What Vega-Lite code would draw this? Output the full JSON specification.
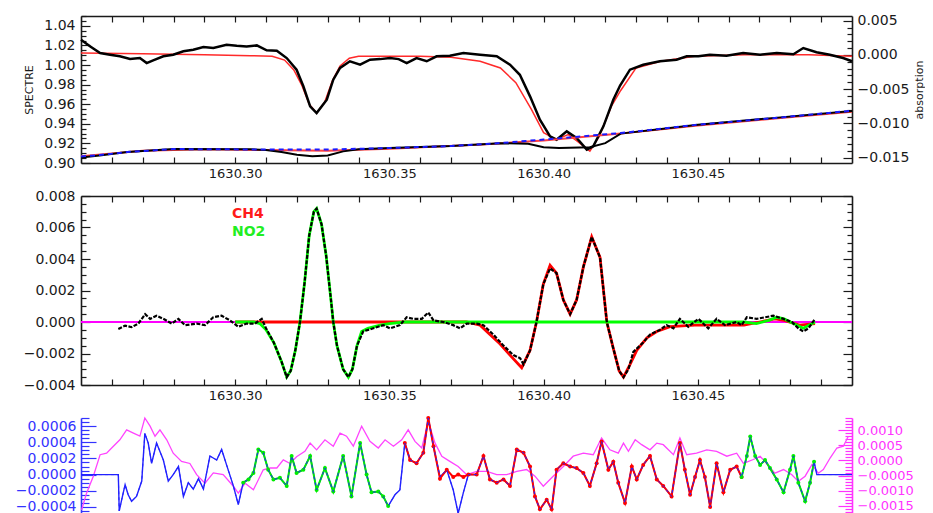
{
"$schema":"https://vega.github.io/schema/vega-lite/v6.json",
"padding":{"left":15,"top":9,"right":0,"bottom":0},
"background":"white",
"config":{"view":{"stroke":null},
 "axis":{"labelFont":"DejaVu Sans","titleFont":"DejaVu Sans","labelColor":"#1a1a1a","domainColor":"#1a1a1a","tickColor":"#1a1a1a","titleColor":"#1a1a1a","domainWidth":1.6,"tickWidth":1.2,"grid":false,"labelFlush":false,"labelOverlap":false,"labelFontSize":14,"titleFontWeight":"normal","titleFontSize":11}},
"datasets":{
"topObs":[{"w":1630.25,"v":1.0258},{"w":1630.2529,"v":1.0191},{"w":1630.2562,"v":1.0122},{"w":1630.2594,"v":1.0105},{"w":1630.2626,"v":1.0089},{"w":1630.2659,"v":1.0061},{"w":1630.2691,"v":1.0071},{"w":1630.2713,"v":1.002},{"w":1630.2734,"v":1.0048},{"w":1630.2767,"v":1.0089},{"w":1630.2799,"v":1.0105},{"w":1630.2832,"v":1.014},{"w":1630.2864,"v":1.0156},{"w":1630.2897,"v":1.0184},{"w":1630.2929,"v":1.0173},{"w":1630.2972,"v":1.0207},{"w":1630.3005,"v":1.0197},{"w":1630.3037,"v":1.019},{"w":1630.307,"v":1.02},{"w":1630.3102,"v":1.015},{"w":1630.3135,"v":1.0146},{"w":1630.3167,"v":1.0071},{"w":1630.3199,"v":0.9952},{"w":1630.3221,"v":0.9783},{"w":1630.3243,"v":0.9578},{"w":1630.3264,"v":0.951},{"w":1630.3297,"v":0.9646},{"w":1630.3318,"v":0.985},{"w":1630.334,"v":0.997},{"w":1630.3372,"v":1.0038},{"w":1630.3405,"v":1.0003},{"w":1630.3437,"v":1.0054},{"w":1630.347,"v":1.006},{"w":1630.3502,"v":1.0071},{"w":1630.353,"v":1.006},{"w":1630.3556,"v":1.002},{"w":1630.3588,"v":1.0071},{"w":1630.3621,"v":1.0038},{"w":1630.3653,"v":1.0089},{"w":1630.3696,"v":1.0095},{"w":1630.374,"v":1.0122},{"w":1630.3794,"v":1.0105},{"w":1630.3848,"v":1.0089},{"w":1630.3891,"v":1.0003},{"w":1630.3923,"v":0.99},{"w":1630.3956,"v":0.968},{"w":1630.3988,"v":0.9442},{"w":1630.4021,"v":0.9272},{"w":1630.4042,"v":0.9238},{"w":1630.4075,"v":0.9323},{"w":1630.4107,"v":0.9255},{"w":1630.414,"v":0.9136},{"w":1630.4161,"v":0.917},{"w":1630.4194,"v":0.9374},{"w":1630.4226,"v":0.9646},{"w":1630.4248,"v":0.979},{"w":1630.428,"v":0.9952},{"w":1630.4323,"v":1.0003},{"w":1630.4377,"v":1.0038},{"w":1630.4431,"v":1.0054},{"w":1630.4464,"v":1.0089},{"w":1630.4502,"v":1.0089},{"w":1630.4539,"v":1.0105},{"w":1630.4593,"v":1.0095},{"w":1630.4647,"v":1.0122},{"w":1630.4702,"v":1.0105},{"w":1630.4756,"v":1.0122},{"w":1630.481,"v":1.011},{"w":1630.4842,"v":1.0173},{"w":1630.4885,"v":1.013},{"w":1630.4928,"v":1.0105},{"w":1630.4971,"v":1.0071},{"w":1630.5,"v":1.0038}],
"topFit":[{"w":1630.25,"v":1.0122},{"w":1630.27,"v":1.0115},{"w":1630.29,"v":1.0105},{"w":1630.305,"v":1.0095},{"w":1630.312,"v":1.0089},{"w":1630.316,"v":1.005},{"w":1630.319,"v":0.995},{"w":1630.3215,"v":0.98},{"w":1630.324,"v":0.96},{"w":1630.3264,"v":0.951},{"w":1630.329,"v":0.962},{"w":1630.3315,"v":0.984},{"w":1630.334,"v":0.999},{"w":1630.337,"v":1.007},{"w":1630.34,"v":1.0089},{"w":1630.36,"v":1.0089},{"w":1630.37,"v":1.008},{"w":1630.3794,"v":1.0038},{"w":1630.386,"v":0.997},{"w":1630.391,"v":0.982},{"w":1630.396,"v":0.955},{"w":1630.4,"v":0.931},{"w":1630.404,"v":0.924},{"w":1630.408,"v":0.929},{"w":1630.411,"v":0.922},{"w":1630.415,"v":0.912},{"w":1630.418,"v":0.927},{"w":1630.422,"v":0.958},{"w":1630.425,"v":0.974},{"w":1630.43,"v":0.997},{"w":1630.438,"v":1.0038},{"w":1630.449,"v":1.0089},{"w":1630.465,"v":1.0105},{"w":1630.486,"v":1.0105},{"w":1630.5,"v":1.0089}],
"lowBlue":[{"w":1630.25,"v":-0.01485},{"w":1630.256,"v":-0.01464},{"w":1630.265,"v":-0.0142},{"w":1630.28,"v":-0.01376},{"w":1630.31,"v":-0.01383},{"w":1630.33,"v":-0.01383},{"w":1630.35,"v":-0.01361},{"w":1630.37,"v":-0.01332},{"w":1630.386,"v":-0.01288},{"w":1630.4,"v":-0.01237},{"w":1630.425,"v":-0.01142},{"w":1630.45,"v":-0.0102},{"w":1630.475,"v":-0.00922},{"w":1630.5,"v":-0.00815}],
"lowRed":[{"w":1630.25,"v":-0.0148},{"w":1630.27,"v":-0.014},{"w":1630.29,"v":-0.0138},{"w":1630.31,"v":-0.0139},{"w":1630.33,"v":-0.014},{"w":1630.35,"v":-0.0137},{"w":1630.38,"v":-0.0131},{"w":1630.4,"v":-0.0125},{"w":1630.425,"v":-0.0115},{"w":1630.45,"v":-0.0103},{"w":1630.475,"v":-0.0093},{"w":1630.5,"v":-0.0083}],
"lowBlack":[{"w":1630.25,"v":-0.015},{"w":1630.256,"v":-0.0147},{"w":1630.265,"v":-0.0142},{"w":1630.28,"v":-0.01376},{"w":1630.305,"v":-0.0138},{"w":1630.31,"v":-0.0139},{"w":1630.315,"v":-0.0142},{"w":1630.32,"v":-0.0146},{"w":1630.325,"v":-0.0148},{"w":1630.33,"v":-0.0147},{"w":1630.335,"v":-0.0141},{"w":1630.34,"v":-0.0138},{"w":1630.35,"v":-0.0136},{"w":1630.37,"v":-0.0133},{"w":1630.386,"v":-0.0129},{"w":1630.395,"v":-0.013},{"w":1630.4,"v":-0.0135},{"w":1630.405,"v":-0.0136},{"w":1630.415,"v":-0.0135},{"w":1630.42,"v":-0.0129},{"w":1630.425,"v":-0.0115},{"w":1630.45,"v":-0.0102},{"w":1630.475,"v":-0.0092},{"w":1630.5,"v":-0.0082}],
"mid":[
{"s":"base","w":1630.25,"v":0},{"s":"base","w":1630.5,"v":0},
{"s":"CH4","w":1630.3,"v":0},{"s":"CH4","w":1630.375,"v":0},{"s":"CH4","w":1630.3794,"v":-0.0002},{"s":"CH4","w":1630.3826,"v":-0.0008},{"s":"CH4","w":1630.3859,"v":-0.0014},{"s":"CH4","w":1630.3891,"v":-0.0021},{"s":"CH4","w":1630.3929,"v":-0.0029},{"s":"CH4","w":1630.3956,"v":-0.0018},{"s":"CH4","w":1630.3977,"v":0},{"s":"CH4","w":1630.3999,"v":0.0024},{"s":"CH4","w":1630.4021,"v":0.0036},{"s":"CH4","w":1630.4042,"v":0.0031},{"s":"CH4","w":1630.4064,"v":0.0014},{"s":"CH4","w":1630.4086,"v":0.0005},{"s":"CH4","w":1630.4107,"v":0.0014},{"s":"CH4","w":1630.4129,"v":0.0035},{"s":"CH4","w":1630.4156,"v":0.0054},{"s":"CH4","w":1630.4183,"v":0.0041},{"s":"CH4","w":1630.4205,"v":0},{"s":"CH4","w":1630.4225,"v":-0.0016},{"s":"CH4","w":1630.4245,"v":-0.0031},{"s":"CH4","w":1630.4259,"v":-0.0035},{"s":"CH4","w":1630.428,"v":-0.0027},{"s":"CH4","w":1630.4302,"v":-0.0018},{"s":"CH4","w":1630.4335,"v":-0.001},{"s":"CH4","w":1630.4367,"v":-0.0006},{"s":"CH4","w":1630.441,"v":-0.0003},{"s":"CH4","w":1630.449,"v":-0.0002},{"s":"CH4","w":1630.465,"v":-0.0002},{"s":"CH4","w":1630.47,"v":0},{"s":"CH4","w":1630.475,"v":0.0002},{"s":"CH4","w":1630.478,"v":0.0001},{"s":"CH4","w":1630.483,"v":-0.0002},{"s":"CH4","w":1630.488,"v":-0.0001},
{"s":"NO2","w":1630.3,"v":0},{"s":"NO2","w":1630.306,"v":0},{"s":"NO2","w":1630.308,"v":-0.0001},{"s":"NO2","w":1630.31,"v":-0.0005},{"s":"NO2","w":1630.3125,"v":-0.0013},{"s":"NO2","w":1630.315,"v":-0.0025},{"s":"NO2","w":1630.3167,"v":-0.0035},{"s":"NO2","w":1630.318,"v":-0.0031},{"s":"NO2","w":1630.3195,"v":-0.0018},{"s":"NO2","w":1630.321,"v":0},{"s":"NO2","w":1630.3225,"v":0.0025},{"s":"NO2","w":1630.324,"v":0.0055},{"s":"NO2","w":1630.3255,"v":0.007},{"s":"NO2","w":1630.3264,"v":0.0072},{"s":"NO2","w":1630.328,"v":0.0062},{"s":"NO2","w":1630.3295,"v":0.0042},{"s":"NO2","w":1630.331,"v":0.0015},{"s":"NO2","w":1630.3318,"v":0},{"s":"NO2","w":1630.333,"v":-0.0015},{"s":"NO2","w":1630.335,"v":-0.003},{"s":"NO2","w":1630.3367,"v":-0.0035},{"s":"NO2","w":1630.338,"v":-0.003},{"s":"NO2","w":1630.3395,"v":-0.0015},{"s":"NO2","w":1630.341,"v":-0.0006},{"s":"NO2","w":1630.343,"v":-0.0004},{"s":"NO2","w":1630.347,"v":-0.0002},{"s":"NO2","w":1630.35,"v":-0.0001},{"s":"NO2","w":1630.355,"v":0},{"s":"NO2","w":1630.465,"v":0},{"s":"NO2","w":1630.469,"v":-0.0001},{"s":"NO2","w":1630.473,"v":0.0001},{"s":"NO2","w":1630.4756,"v":0.0003},{"s":"NO2","w":1630.478,"v":0.0002},{"s":"NO2","w":1630.48,"v":0},{"s":"NO2","w":1630.4842,"v":-0.0004},{"s":"NO2","w":1630.488,"v":0},
{"s":"obs","w":1630.2621,"v":-0.00044},{"s":"obs","w":1630.2643,"v":-0.00023},{"s":"obs","w":1630.2664,"v":-0.00033},{"s":"obs","w":1630.2686,"v":-0.0001},{"s":"obs","w":1630.2708,"v":0.0005},{"s":"obs","w":1630.2724,"v":0.0002},{"s":"obs","w":1630.2745,"v":0.0004},{"s":"obs","w":1630.2767,"v":0.0002},{"s":"obs","w":1630.2794,"v":-0.0001},{"s":"obs","w":1630.2816,"v":0.0002},{"s":"obs","w":1630.2837,"v":-0.0002},{"s":"obs","w":1630.2875,"v":-0.0001},{"s":"obs","w":1630.2902,"v":-0.0002},{"s":"obs","w":1630.2929,"v":0.0003},{"s":"obs","w":1630.2956,"v":0.0004},{"s":"obs","w":1630.2983,"v":0.0001},{"s":"obs","w":1630.301,"v":-0.0003},{"s":"obs","w":1630.3037,"v":-0.0001},{"s":"obs","w":1630.3064,"v":-0.0001},{"s":"obs","w":1630.3086,"v":0.0002},{"s":"obs","w":1630.31,"v":-0.0004},{"s":"obs","w":1630.3125,"v":-0.0013},{"s":"obs","w":1630.315,"v":-0.0025},{"s":"obs","w":1630.3167,"v":-0.0035},{"s":"obs","w":1630.318,"v":-0.0031},{"s":"obs","w":1630.3195,"v":-0.0018},{"s":"obs","w":1630.321,"v":0},{"s":"obs","w":1630.3225,"v":0.0025},{"s":"obs","w":1630.324,"v":0.0055},{"s":"obs","w":1630.3255,"v":0.007},{"s":"obs","w":1630.3264,"v":0.0072},{"s":"obs","w":1630.328,"v":0.0062},{"s":"obs","w":1630.3295,"v":0.0042},{"s":"obs","w":1630.331,"v":0.0015},{"s":"obs","w":1630.3318,"v":0},{"s":"obs","w":1630.333,"v":-0.0015},{"s":"obs","w":1630.335,"v":-0.003},{"s":"obs","w":1630.3367,"v":-0.0035},{"s":"obs","w":1630.338,"v":-0.003},{"s":"obs","w":1630.3395,"v":-0.0015},{"s":"obs","w":1630.3415,"v":-0.0006},{"s":"obs","w":1630.3448,"v":-0.0004},{"s":"obs","w":1630.348,"v":-0.0002},{"s":"obs","w":1630.3502,"v":-0.0004},{"s":"obs","w":1630.3534,"v":-0.0002},{"s":"obs","w":1630.3556,"v":0.0003},{"s":"obs","w":1630.3578,"v":0.0002},{"s":"obs","w":1630.3605,"v":0.0002},{"s":"obs","w":1630.3626,"v":0.0006},{"s":"obs","w":1630.3643,"v":0.0001},{"s":"obs","w":1630.3675,"v":0},{"s":"obs","w":1630.3707,"v":-0.0002},{"s":"obs","w":1630.3729,"v":-0.0004},{"s":"obs","w":1630.3751,"v":-0.0001},{"s":"obs","w":1630.3783,"v":-0.0001},{"s":"obs","w":1630.3805,"v":-0.0002},{"s":"obs","w":1630.3837,"v":-0.0008},{"s":"obs","w":1630.387,"v":-0.0015},{"s":"obs","w":1630.3902,"v":-0.0021},{"s":"obs","w":1630.3924,"v":-0.0023},{"s":"obs","w":1630.3935,"v":-0.0027},{"s":"obs","w":1630.3956,"v":-0.0018},{"s":"obs","w":1630.3977,"v":0},{"s":"obs","w":1630.3999,"v":0.0024},{"s":"obs","w":1630.4021,"v":0.0034},{"s":"obs","w":1630.4042,"v":0.0031},{"s":"obs","w":1630.4064,"v":0.0014},{"s":"obs","w":1630.4086,"v":0.0005},{"s":"obs","w":1630.4107,"v":0.0014},{"s":"obs","w":1630.4129,"v":0.0035},{"s":"obs","w":1630.4156,"v":0.0054},{"s":"obs","w":1630.4183,"v":0.0041},{"s":"obs","w":1630.4205,"v":0},{"s":"obs","w":1630.4225,"v":-0.0016},{"s":"obs","w":1630.4245,"v":-0.0031},{"s":"obs","w":1630.4259,"v":-0.0035},{"s":"obs","w":1630.4275,"v":-0.003},{"s":"obs","w":1630.4291,"v":-0.0019},{"s":"obs","w":1630.4323,"v":-0.0013},{"s":"obs","w":1630.4345,"v":-0.0008},{"s":"obs","w":1630.4377,"v":-0.0005},{"s":"obs","w":1630.4399,"v":-0.0002},{"s":"obs","w":1630.4421,"v":-0.0004},{"s":"obs","w":1630.4442,"v":0.0002},{"s":"obs","w":1630.4469,"v":-0.0003},{"s":"obs","w":1630.4502,"v":0.0002},{"s":"obs","w":1630.4534,"v":-0.0004},{"s":"obs","w":1630.4561,"v":0.0002},{"s":"obs","w":1630.4588,"v":-0.0002},{"s":"obs","w":1630.4626,"v":0},{"s":"obs","w":1630.4642,"v":-0.0002},{"s":"obs","w":1630.4659,"v":0.0003},{"s":"obs","w":1630.4691,"v":0.0002},{"s":"obs","w":1630.4718,"v":0.0003},{"s":"obs","w":1630.4745,"v":0.0004},{"s":"obs","w":1630.4778,"v":0.0002},{"s":"obs","w":1630.4805,"v":0},{"s":"obs","w":1630.4826,"v":-0.0004},{"s":"obs","w":1630.4842,"v":-0.0006},{"s":"obs","w":1630.4859,"v":-0.0004},{"s":"obs","w":1630.488,"v":0.0002}],
"botBlue":[{"w":1630.25,"v":0},{"w":1630.2621,"v":0},{"w":1630.2624,"v":-0.00045},{"w":1630.2632,"v":-0.00031},{"w":1630.2643,"v":-0.000125},{"w":1630.2653,"v":-0.00025},{"w":1630.2664,"v":-0.00033},{"w":1630.268,"v":-0.00027},{"w":1630.2697,"v":-0.00008},{"w":1630.2707,"v":0.00051},{"w":1630.2718,"v":0.00039},{"w":1630.2729,"v":0.00014},{"w":1630.2745,"v":0.00039},{"w":1630.2767,"v":0.00018},{"w":1630.2783,"v":-0.00008},{"w":1630.2799,"v":0},{"w":1630.2816,"v":0.0001},{"w":1630.2832,"v":-0.00027},{"w":1630.2848,"v":-0.0001},{"w":1630.2864,"v":-0.00018},{"w":1630.2881,"v":-0.00005},{"w":1630.2897,"v":-0.00018},{"w":1630.2918,"v":0.00023},{"w":1630.294,"v":0.00018},{"w":1630.2956,"v":0.00031},{"w":1630.2972,"v":0.00012},{"w":1630.2994,"v":-0.00014},{"w":1630.301,"v":-0.00037},{"w":1630.3026,"v":-0.0001},{"w":1630.3043,"v":-0.00006},{"w":1630.3059,"v":0.00002},{"w":1630.3075,"v":0.00031},{"w":1630.3091,"v":0.00027},{"w":1630.3107,"v":0.00006},{"w":1630.3124,"v":-0.00006},{"w":1630.3145,"v":-0.00004},{"w":1630.3167,"v":-0.00014},{"w":1630.3183,"v":0.00023},{"w":1630.3199,"v":0.00002},{"w":1630.3221,"v":0.00006},{"w":1630.3243,"v":0.00023},{"w":1630.3264,"v":-0.00019},{"w":1630.3291,"v":0.00008},{"w":1630.3318,"v":-0.00021},{"w":1630.335,"v":0.00023},{"w":1630.3377,"v":-0.00027},{"w":1630.3405,"v":0.00039},{"w":1630.3426,"v":0},{"w":1630.3442,"v":-0.00022},{"w":1630.3464,"v":-0.00021},{"w":1630.348,"v":-0.00027},{"w":1630.3496,"v":-0.00039},{"w":1630.3518,"v":-0.00025},{"w":1630.3534,"v":-0.00019},{"w":1630.355,"v":0.00039},{"w":1630.3567,"v":0.00018},{"w":1630.3588,"v":0.00014},{"w":1630.361,"v":0.00027},{"w":1630.3626,"v":0.0007},{"w":1630.3643,"v":0.00035},{"w":1630.3664,"v":-0.00003},{"w":1630.3686,"v":0.00006},{"w":1630.3707,"v":-0.00019},{"w":1630.3723,"v":-0.00048},{"w":1630.374,"v":-0.00022},{"w":1630.3756,"v":0},{"w":1630.3783,"v":0},{"w":1630.3805,"v":0.00023},{"w":1630.3826,"v":-0.00006},{"w":1630.3848,"v":-0.0001},{"w":1630.387,"v":-0.00006},{"w":1630.3891,"v":-0.00014},{"w":1630.3913,"v":0.00031},{"w":1630.3935,"v":0.00027},{"w":1630.3956,"v":0.0001},{"w":1630.3972,"v":-0.00027},{"w":1630.3988,"v":-0.00043},{"w":1630.401,"v":-0.00031},{"w":1630.4026,"v":-0.00043},{"w":1630.4042,"v":0.00006},{"w":1630.4064,"v":0.00014},{"w":1630.4086,"v":0.0001},{"w":1630.4107,"v":0.00008},{"w":1630.4129,"v":0.00002},{"w":1630.415,"v":-0.00014},{"w":1630.4172,"v":0.00014},{"w":1630.4188,"v":0.00041},{"w":1630.421,"v":0.00006},{"w":1630.4226,"v":0.00016},{"w":1630.4242,"v":-0.0001},{"w":1630.4264,"v":-0.00035},{"w":1630.4286,"v":0.0001},{"w":1630.4302,"v":-0.00006},{"w":1630.4323,"v":0.00012},{"w":1630.4345,"v":0.00023},{"w":1630.4367,"v":-0.00006},{"w":1630.4388,"v":-0.00014},{"w":1630.4415,"v":-0.00027},{"w":1630.4442,"v":0.00039},{"w":1630.4458,"v":0.00006},{"w":1630.4475,"v":-0.00025},{"w":1630.4491,"v":-0.00003},{"w":1630.4507,"v":0.00018},{"w":1630.4523,"v":-0.00003},{"w":1630.454,"v":-0.0004},{"w":1630.4561,"v":0.00014},{"w":1630.4583,"v":-0.00022},{"w":1630.4605,"v":0.00006},{"w":1630.4626,"v":0.0001},{"w":1630.4642,"v":-0.00003},{"w":1630.4659,"v":0.00023},{"w":1630.467,"v":0.00047},{"w":1630.4686,"v":0.00023},{"w":1630.4702,"v":0.00012},{"w":1630.4718,"v":0.00018},{"w":1630.4734,"v":0.00008},{"w":1630.4756,"v":-0.00006},{"w":1630.4778,"v":-0.00022},{"w":1630.4799,"v":0.00006},{"w":1630.481,"v":0.00023},{"w":1630.4826,"v":-0.0001},{"w":1630.4848,"v":-0.00033},{"w":1630.4864,"v":-0.0001},{"w":1630.4877,"v":0.00016},{"w":1630.4886,"v":0},{"w":1630.5,"v":0}],
"botRed":[{"w":1630.355,"v":0.00039},{"w":1630.3567,"v":0.00018},{"w":1630.3588,"v":0.00014},{"w":1630.361,"v":0.00027},{"w":1630.3626,"v":0.0007},{"w":1630.3643,"v":0.00035},{"w":1630.3664,"v":-0.00005},{"w":1630.3686,"v":0.00006},{"w":1630.3707,"v":-0.00003},{"w":1630.3723,"v":0},{"w":1630.374,"v":-0.00003},{"w":1630.3756,"v":0},{"w":1630.3783,"v":0},{"w":1630.3805,"v":0.00023},{"w":1630.3826,"v":-0.00006},{"w":1630.3848,"v":-0.0001},{"w":1630.387,"v":-0.00006},{"w":1630.3891,"v":-0.00014},{"w":1630.3913,"v":0.00031},{"w":1630.3935,"v":0.00027},{"w":1630.3956,"v":0.0001},{"w":1630.3972,"v":-0.00027},{"w":1630.3988,"v":-0.00043},{"w":1630.401,"v":-0.00031},{"w":1630.4026,"v":-0.00043},{"w":1630.4042,"v":0.00006},{"w":1630.4064,"v":0.00014},{"w":1630.4086,"v":0.0001},{"w":1630.4107,"v":0.00008},{"w":1630.4129,"v":0.00002},{"w":1630.415,"v":-0.00014},{"w":1630.4172,"v":0.00014},{"w":1630.4188,"v":0.00041},{"w":1630.421,"v":0.00006},{"w":1630.4226,"v":0.00016},{"w":1630.4242,"v":-0.0001},{"w":1630.4264,"v":-0.00035},{"w":1630.4286,"v":0.0001},{"w":1630.4302,"v":-0.00006},{"w":1630.4323,"v":0.00012},{"w":1630.4345,"v":0.00023},{"w":1630.4367,"v":-0.00006},{"w":1630.4388,"v":-0.00014},{"w":1630.4415,"v":-0.00027},{"w":1630.4442,"v":0.00039},{"w":1630.4458,"v":0.00006},{"w":1630.4475,"v":-0.00025},{"w":1630.4491,"v":-0.00003},{"w":1630.4507,"v":0.00018},{"w":1630.4523,"v":-0.00003},{"w":1630.454,"v":-0.0004},{"w":1630.4561,"v":0.00014},{"w":1630.4583,"v":-0.00022},{"w":1630.4605,"v":0.00006},{"w":1630.4626,"v":0.0001},{"w":1630.4642,"v":-0.00003}],
"botGreen1":[{"w":1630.3026,"v":-0.0001},{"w":1630.3043,"v":-0.00006},{"w":1630.3059,"v":0.00002},{"w":1630.3075,"v":0.00031},{"w":1630.3091,"v":0.00027},{"w":1630.3107,"v":0.00006},{"w":1630.3124,"v":-0.00006},{"w":1630.3145,"v":-0.00004},{"w":1630.3167,"v":-0.00014},{"w":1630.3183,"v":0.00023},{"w":1630.3199,"v":0.00002},{"w":1630.3221,"v":0.00006},{"w":1630.3243,"v":0.00023},{"w":1630.3264,"v":-0.00019},{"w":1630.3291,"v":0.00008},{"w":1630.3318,"v":-0.00021},{"w":1630.335,"v":0.00023},{"w":1630.3377,"v":-0.00027},{"w":1630.3405,"v":0.00039},{"w":1630.3426,"v":0},{"w":1630.3442,"v":-0.00022},{"w":1630.3464,"v":-0.00021},{"w":1630.348,"v":-0.00027},{"w":1630.3496,"v":-0.00039}],
"botGreen2":[{"w":1630.4642,"v":-0.00003},{"w":1630.4659,"v":0.00023},{"w":1630.467,"v":0.00047},{"w":1630.4686,"v":0.00023},{"w":1630.4702,"v":0.00012},{"w":1630.4718,"v":0.00018},{"w":1630.4734,"v":0.00008},{"w":1630.4756,"v":-0.00006},{"w":1630.4778,"v":-0.00022},{"w":1630.4799,"v":0.00006},{"w":1630.481,"v":0.00023},{"w":1630.4826,"v":-0.0001},{"w":1630.4848,"v":-0.00033},{"w":1630.4864,"v":-0.0001},{"w":1630.4877,"v":0.00016}],
"botMag":[{"w":1630.2502,"v":-0.00163},{"w":1630.2518,"v":-0.00108},{"w":1630.254,"v":-0.00052},{"w":1630.2562,"v":0.00019},{"w":1630.2583,"v":0.00024},{"w":1630.2605,"v":0.00047},{"w":1630.2626,"v":0.00068},{"w":1630.2648,"v":0.00101},{"w":1630.267,"v":0.0009},{"w":1630.2691,"v":0.0008},{"w":1630.2707,"v":0.0014},{"w":1630.2724,"v":0.00113},{"w":1630.274,"v":0.0008},{"w":1630.2756,"v":0.00101},{"w":1630.2778,"v":0.00068},{"w":1630.2799,"v":0.00024},{"w":1630.2826,"v":-0.00003},{"w":1630.2853,"v":-0.0001},{"w":1630.2875,"v":-0.00047},{"w":1630.2902,"v":-0.00075},{"w":1630.2929,"v":-0.00041},{"w":1630.2961,"v":-0.00047},{"w":1630.2994,"v":-0.00085},{"w":1630.301,"v":-0.00108},{"w":1630.3032,"v":-0.00075},{"w":1630.3059,"v":-0.00097},{"w":1630.3091,"v":-0.00031},{"w":1630.3113,"v":-0.00025},{"w":1630.3135,"v":-0.00025},{"w":1630.3156,"v":0.00002},{"w":1630.3178,"v":-0.0001},{"w":1630.3199,"v":0.00012},{"w":1630.3226,"v":0.0003},{"w":1630.3243,"v":0.00057},{"w":1630.3264,"v":0.00035},{"w":1630.3291,"v":0.00068},{"w":1630.3318,"v":0.00047},{"w":1630.334,"v":0.0009},{"w":1630.3361,"v":0.0008},{"w":1630.3383,"v":0.00047},{"w":1630.341,"v":0.00113},{"w":1630.3437,"v":0.00063},{"w":1630.3464,"v":0.00041},{"w":1630.3486,"v":0.00068},{"w":1630.3513,"v":0.00047},{"w":1630.354,"v":0.00068},{"w":1630.3561,"v":0.00101},{"w":1630.3583,"v":0.00063},{"w":1630.3605,"v":0.00041},{"w":1630.3626,"v":0.00129},{"w":1630.3648,"v":0.00057},{"w":1630.367,"v":0.00014},{"w":1630.3696,"v":-0.00003},{"w":1630.3723,"v":-0.0002},{"w":1630.3751,"v":-0.00047},{"w":1630.3783,"v":-0.00036},{"w":1630.3816,"v":-0.00036},{"w":1630.3848,"v":-0.00047},{"w":1630.388,"v":-0.00047},{"w":1630.3913,"v":-0.00036},{"w":1630.3945,"v":-0.0003},{"w":1630.3972,"v":-0.00052},{"w":1630.3999,"v":-0.00085},{"w":1630.4031,"v":-0.00052},{"w":1630.4064,"v":-0.0002},{"w":1630.4096,"v":0.00014},{"w":1630.4129,"v":0.00024},{"w":1630.4161,"v":0.00019},{"w":1630.4188,"v":0.00074},{"w":1630.4215,"v":0.00035},{"w":1630.4242,"v":0.00024},{"w":1630.4259,"v":0.00057},{"w":1630.4275,"v":0.0003},{"w":1630.4297,"v":0.00068},{"w":1630.4318,"v":0.00052},{"w":1630.4345,"v":0.00035},{"w":1630.4367,"v":0.00057},{"w":1630.4388,"v":0.00052},{"w":1630.4421,"v":0.00019},{"w":1630.4442,"v":0.00074},{"w":1630.4464,"v":0.00019},{"w":1630.4496,"v":0.00024},{"w":1630.4529,"v":0.00035},{"w":1630.4561,"v":0.0003},{"w":1630.4594,"v":0.00014},{"w":1630.4626,"v":0.00024},{"w":1630.4648,"v":-0.0001},{"w":1630.468,"v":0.00003},{"w":1630.4702,"v":0.00014},{"w":1630.4723,"v":-0.0001},{"w":1630.475,"v":-0.00042},{"w":1630.4778,"v":-0.0003},{"w":1630.4805,"v":-0.00047},{"w":1630.4826,"v":-0.00069},{"w":1630.4848,"v":-0.00052},{"w":1630.487,"v":-0.00014},{"w":1630.4891,"v":-0.00042},{"w":1630.4907,"v":-0.0003},{"w":1630.4929,"v":0.00008},{"w":1630.4951,"v":0.00041},{"w":1630.4972,"v":0.00047},{"w":1630.4988,"v":0.0008}]
},
"vconcat":[
{
 "width":771,"height":147,
 "layer":[
  {"encoding":{
    "x":{"field":"w","type":"quantitative","scale":{"domain":[1630.25,1630.5],"nice":false,"zero":false},
      "axis":{"orient":"bottom","title":null,"values":[1630.26,1630.27,1630.28,1630.29,1630.3,1630.31,1630.32,1630.33,1630.34,1630.35,1630.36,1630.37,1630.38,1630.39,1630.4,1630.41,1630.42,1630.43,1630.44,1630.45,1630.46,1630.47,1630.48,1630.49],"labelExpr":"abs(datum.value*20-round(datum.value*20))<1e-6 ? format(datum.value,'.2f') : ''","tickSize":-6,"labelPadding":10,"labelFontSize":13}},
    "y":{"field":"v","type":"quantitative","scale":{"domain":[0.9,1.05],"nice":false,"zero":false},
      "axis":{"orient":"left","title":"SPECTRE","titlePadding":9,"values":[0.9,0.905,0.91,0.915,0.92,0.925,0.93,0.935,0.94,0.945,0.95,0.955,0.96,0.965,0.97,0.975,0.98,0.985,0.99,0.995,1.0,1.005,1.01,1.015,1.02,1.025,1.03,1.035,1.04,1.045,1.05],"labelExpr":"abs(datum.value*50-round(datum.value*50))<1e-6 ? format(datum.value,'.2f') : ''","tickSize":{"condition":{"test":"abs(datum.value*50-round(datum.value*50))<1e-6","value":-9},"value":-5},"labelPadding":15}}},
   "layer":[
    {"data":{"name":"topFit"},"mark":{"type":"line","color":"#ff2a2a","strokeWidth":1.5}},
    {"data":{"name":"topObs"},"mark":{"type":"line","color":"#000000","strokeWidth":2.5}}
   ]},
  {"encoding":{
    "x":{"field":"w","type":"quantitative","scale":{"domain":[1630.25,1630.5],"nice":false,"zero":false},
      "axis":{"orient":"top","title":null,"labels":false,"values":[1630.26,1630.27,1630.28,1630.29,1630.3,1630.31,1630.32,1630.33,1630.34,1630.35,1630.36,1630.37,1630.38,1630.39,1630.4,1630.41,1630.42,1630.43,1630.44,1630.45,1630.46,1630.47,1630.48,1630.49],"tickSize":-6}},
    "y":{"field":"v","type":"quantitative","scale":{"domain":[-0.0158,0.0057],"nice":false,"zero":false},
      "axis":{"orient":"right","title":"absorption","titlePadding":16,"titleAngle":270,"values":[-0.015,-0.014,-0.013,-0.012,-0.011,-0.01,-0.009,-0.008,-0.007,-0.006,-0.005,-0.004,-0.003,-0.002,-0.001,0,0.001,0.002,0.003,0.004,0.005],"labelExpr":"abs(datum.value*200-round(datum.value*200))<1e-6 ? format(datum.value,'.3f') : ''","tickSize":{"condition":{"test":"abs(datum.value*200-round(datum.value*200))<1e-6","value":-9},"value":-5},"labelPadding":14}}},
   "layer":[
    {"data":{"name":"lowRed"},"mark":{"type":"line","color":"#ff4040","strokeWidth":2}},
    {"data":{"name":"lowBlack"},"mark":{"type":"line","color":"#000000","strokeWidth":2}},
    {"data":{"name":"lowBlue"},"mark":{"type":"line","color":"#1a1aff","strokeWidth":2,"strokeDash":[5,4]}}
   ]}
 ],
 "resolve":{"scale":{"x":"independent","y":"independent"}}
},
{
 "width":771,"height":189,
 "layer":[
  {"data":{"name":"mid"},
   "encoding":{
    "x":{"field":"w","type":"quantitative","scale":{"domain":[1630.25,1630.5],"nice":false,"zero":false},
      "axis":{"orient":"bottom","title":null,"values":[1630.26,1630.27,1630.28,1630.29,1630.3,1630.31,1630.32,1630.33,1630.34,1630.35,1630.36,1630.37,1630.38,1630.39,1630.4,1630.41,1630.42,1630.43,1630.44,1630.45,1630.46,1630.47,1630.48,1630.49],"labelExpr":"abs(datum.value*20-round(datum.value*20))<1e-6 ? format(datum.value,'.2f') : ''","tickSize":-6,"labelPadding":10,"labelFontSize":13}},
    "y":{"field":"v","type":"quantitative","scale":{"domain":[-0.004,0.008],"nice":false,"zero":false},
      "axis":{"orient":"left","title":null,"values":[-0.004,-0.0035,-0.003,-0.0025,-0.002,-0.0015,-0.001,-0.0005,0,0.0005,0.001,0.0015,0.002,0.0025,0.003,0.0035,0.004,0.0045,0.005,0.0055,0.006,0.0065,0.007,0.0075,0.008],"labelExpr":"abs(datum.value*500-round(datum.value*500))<1e-6 ? format(datum.value,'.3f') : ''","tickSize":{"condition":{"test":"abs(datum.value*500-round(datum.value*500))<1e-6","value":-9},"value":-5},"labelPadding":15}},
    "color":{"field":"s","type":"nominal","scale":{"domain":["obs","CH4","NO2","base"],"range":["#000000","#ff0000","#00ff00","#ff00ff"]},
      "legend":{"values":["CH4","NO2"],"orient":"none","legendX":137,"legendY":11,"title":null,"symbolSize":0,"symbolStrokeWidth":0,"symbolOpacity":0,"labelOffset":0,"labelFont":"DejaVu Sans","labelFontSize":14,"labelFontWeight":"bold","rowPadding":4,"encode":{"labels":{"update":{"fill":{"signal":"datum.label === 'CH4' ? '#ff1a1a' : '#22ee22'"}}}}}}},
   "layer":[
    {"transform":[{"filter":"datum.s === 'base'"}],"mark":{"type":"line","strokeWidth":1.8}}
   ]},
  {"data":{"name":"mid"},
   "encoding":{
    "x":{"field":"w","type":"quantitative","scale":{"domain":[1630.25,1630.5],"nice":false,"zero":false},
      "axis":{"orient":"top","title":null,"labels":false,"values":[1630.26,1630.27,1630.28,1630.29,1630.3,1630.31,1630.32,1630.33,1630.34,1630.35,1630.36,1630.37,1630.38,1630.39,1630.4,1630.41,1630.42,1630.43,1630.44,1630.45,1630.46,1630.47,1630.48,1630.49],"tickSize":-6}},
    "y":{"field":"v","type":"quantitative","scale":{"domain":[-0.004,0.008],"nice":false,"zero":false},
      "axis":{"orient":"right","title":null,"labels":false,"values":[-0.004,-0.0035,-0.003,-0.0025,-0.002,-0.0015,-0.001,-0.0005,0,0.0005,0.001,0.0015,0.002,0.0025,0.003,0.0035,0.004,0.0045,0.005,0.0055,0.006,0.0065,0.007,0.0075,0.008],"tickSize":{"condition":{"test":"abs(datum.value*500-round(datum.value*500))<1e-6","value":-9},"value":-5}}},
    "color":{"field":"s","type":"nominal","scale":{"domain":["obs","CH4","NO2","base"],"range":["#000000","#ff0000","#00ff00","#ff00ff"]},
      "legend":{"values":["CH4","NO2"],"orient":"none","legendX":137,"legendY":11,"title":null,"symbolSize":0,"symbolStrokeWidth":0,"symbolOpacity":0,"labelOffset":0,"labelFont":"DejaVu Sans","labelFontSize":14,"labelFontWeight":"bold","rowPadding":4,"encode":{"labels":{"update":{"fill":{"signal":"datum.label === 'CH4' ? '#ff1a1a' : '#22ee22'"}}}}}}},
   "layer":[
    {"transform":[{"filter":"datum.s === 'CH4'"}],"mark":{"type":"line","strokeWidth":2.8}},
    {"transform":[{"filter":"datum.s === 'NO2'"}],"mark":{"type":"line","strokeWidth":2.8}},
    {"transform":[{"filter":"datum.s === 'obs'"}],"mark":{"type":"line","strokeWidth":2.2,"strokeDash":[4,1.5]}}
   ]}
 ],
 "resolve":{"scale":{"x":"independent","y":"independent"}}
},
{
 "width":771,"height":97,
 "layer":[
  {"data":{"name":"botMag"},
   "encoding":{
    "x":{"field":"w","type":"quantitative","scale":{"domain":[1630.25,1630.5],"nice":false,"zero":false},"axis":null},
    "y":{"field":"v","type":"quantitative","scale":{"domain":[-0.0018,0.0014],"nice":false,"zero":false},
      "axis":{"orient":"right","title":null,"labelColor":"#ff33ff","tickColor":"#ff33ff","domainColor":"#ff33ff","labelFontSize":13,"values":[-0.0018,-0.0017,-0.0016,-0.0015,-0.0014,-0.0013,-0.0012,-0.0011,-0.001,-0.0009,-0.0008,-0.0007,-0.0006,-0.0005,-0.0004,-0.0003,-0.0002,-0.0001,0,0.0001,0.0002,0.0003,0.0004,0.0005,0.0006,0.0007,0.0008,0.0009,0.001,0.0011,0.0012,0.0013,0.0014],"labelExpr":"abs(datum.value*2000-round(datum.value*2000))<1e-6 ? format(datum.value,'.4f') : ''","tickSize":{"condition":{"test":"abs(datum.value*2000-round(datum.value*2000))<1e-6","value":-14},"value":-7},"labelPadding":19}}},
   "mark":{"type":"line","color":"#ff44ff","strokeWidth":1.3}},
  {"encoding":{
    "x":{"field":"w","type":"quantitative","scale":{"domain":[1630.25,1630.5],"nice":false,"zero":false},"axis":null},
    "y":{"field":"v","type":"quantitative","scale":{"domain":[-0.0005,0.0007],"nice":false,"zero":false},
      "axis":{"orient":"left","title":null,"labelColor":"#3333ff","tickColor":"#3333ff","domainColor":"#3333ff","labelFontSize":14,"values":[-0.0005,-0.00045,-0.0004,-0.00035,-0.0003,-0.00025,-0.0002,-0.00015,-0.0001,-0.00005,0,0.00005,0.0001,0.00015,0.0002,0.00025,0.0003,0.00035,0.0004,0.00045,0.0005,0.00055,0.0006,0.00065,0.0007],"labelExpr":"abs(datum.value*5000-round(datum.value*5000))<1e-6 ? format(datum.value,'.4f') : ''","tickSize":{"condition":{"test":"abs(datum.value*5000-round(datum.value*5000))<1e-6","value":-15},"value":-8},"labelPadding":20}}},
   "layer":[
    {"data":{"name":"botBlue"},"mark":{"type":"line","color":"#2222ff","strokeWidth":1.4}},
    {"data":{"name":"botRed"},"mark":{"type":"line","color":"#ff0000","strokeWidth":2,"point":{"filled":true,"size":16,"color":"#ff0000"}}},
    {"data":{"name":"botGreen1"},"mark":{"type":"line","color":"#00ee00","strokeWidth":2,"point":{"filled":true,"size":16,"color":"#00ee00"}}},
    {"data":{"name":"botGreen2"},"mark":{"type":"line","color":"#00ee00","strokeWidth":2,"point":{"filled":true,"size":16,"color":"#00ee00"}}},
    {"data":{"name":"botBlue"},"mark":{"type":"line","color":"#2222ff","strokeWidth":1,"strokeDash":[3,3]}}
   ]}
 ],
 "resolve":{"scale":{"y":"independent"}}
}
],
"spacing":33,
"bounds":"flush",
"resolve":{"scale":{"color":"independent"}}
}
